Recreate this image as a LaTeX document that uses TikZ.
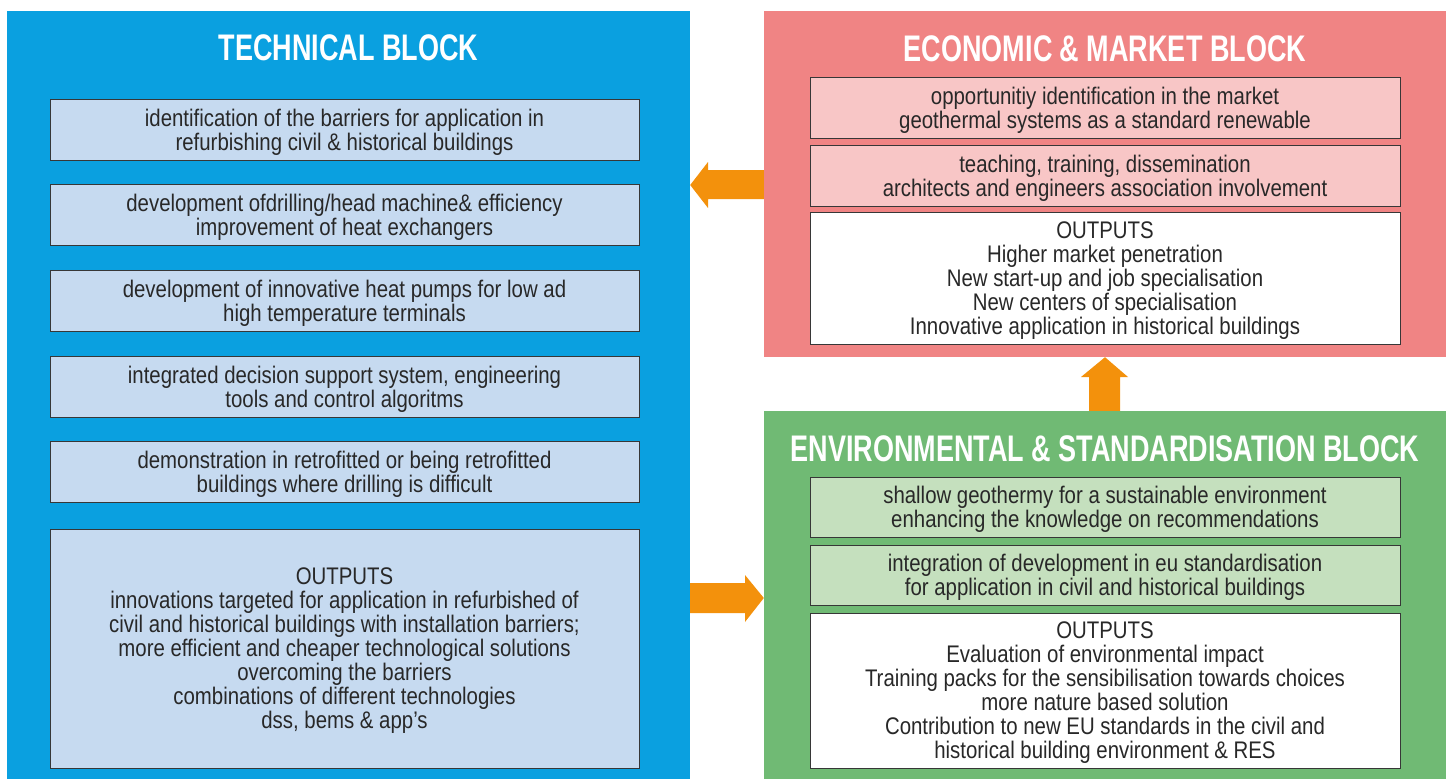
\documentclass[tikz,border=0pt]{standalone}
\usepackage{fontspec}
\setmainfont{Liberation Sans}[FakeStretch=0.85]
\newfontfamily\titlefont{Liberation Sans}[FakeStretch=0.73]
\definecolor{techblue}{RGB}{10,160,224}
\definecolor{econpink}{RGB}{240,132,132}
\definecolor{envgreen}{RGB}{112,186,116}
\definecolor{lblue}{RGB}{198,218,240}
\definecolor{lpink}{RGB}{248,198,198}
\definecolor{lgreen}{RGB}{197,224,190}
\definecolor{arrowor}{RGB}{243,145,12}
\definecolor{txt}{RGB}{40,40,40}
\definecolor{frame}{RGB}{55,55,55}
\tikzset{
  block/.style={rectangle, inner sep=0pt, draw=none},
  blocktitle/.style={text=white, font=\titlefont\bfseries\fontsize{37}{40}\selectfont, inner sep=0pt},
  item/.style={rectangle, draw=frame, line width=0.9pt, inner sep=0pt, align=center, text=txt,
    font=\fontsize{24}{24}\selectfont, text depth=0pt, minimum width=#1},
  flow/.style={fill=arrowor, draw=none}
}
\begin{document}
\begin{tikzpicture}[x=1pt,y=-1pt]
\useasboundingbox (0,0) rectangle (1453,779);
% blocks
\node[block, fill=techblue, minimum width=683pt, minimum height=768pt] (tech) at (348.5,395) {};
\node[block, fill=econpink, minimum width=682pt, minimum height=346pt] (econ) at (1105,184) {};
\node[block, fill=envgreen, minimum width=682pt, minimum height=368pt] (env) at (1105,595) {};
% titles
\node[blocktitle] (techT) at (348.5,48) {TECHNICAL BLOCK};
\node[blocktitle] (econT) at (1105,49) {ECONOMIC \& MARKET BLOCK};
\node[blocktitle] (envT) at (1105,449) {ENVIRONMENTAL \& STANDARDISATION BLOCK};
% technical items
\node[item=589pt, fill=lblue, minimum height=61pt] (t1) at (344.5,129.5)
  {identification of the barriers for application in\\refurbishing civil \& historical buildings};
\node[item=589pt, fill=lblue, minimum height=61pt] (t2) at (344.5,214.5)
  {development ofdrilling/head machine\& efficiency\\improvement of heat exchangers};
\node[item=589pt, fill=lblue, minimum height=61pt] (t3) at (344.5,300.5)
  {development of innovative heat pumps for low ad\\high temperature terminals};
\node[item=589pt, fill=lblue, minimum height=61pt] (t4) at (344.5,386.5)
  {integrated decision support system, engineering\\tools and control algoritms};
\node[item=589pt, fill=lblue, minimum height=61pt] (t5) at (344.5,471.5)
  {demonstration in retrofitted or being retrofitted\\buildings where drilling is difficult};
\node[item=589pt, fill=lblue, minimum height=239pt] (t6) at (344.5,648.5)
  {OUTPUTS\\innovations targeted for application in refurbished of\\civil and historical buildings with installation barriers;\\more efficient and cheaper technological solutions\\overcoming the barriers\\combinations of different technologies\\dss, bems \& app’s};
% economic items
\node[item=590pt, fill=lpink, minimum height=61pt] (e1) at (1105,107.5)
  {opportunitiy identification in the market\\geothermal systems as a standard renewable};
\node[item=590pt, fill=lpink, minimum height=61pt] (e2) at (1105,175.5)
  {teaching, training, dissemination\\architects and engineers association involvement};
\node[item=590pt, fill=white, minimum height=132pt] (e3) at (1105,278)
  {OUTPUTS\\Higher market penetration\\New start-up and job specialisation\\New centers of specialisation\\Innovative application in historical buildings};
% environmental items
\node[item=590pt, fill=lgreen, minimum height=60pt] (g1) at (1105,507)
  {shallow geothermy for a sustainable environment\\enhancing the knowledge on recommendations};
\node[item=590pt, fill=lgreen, minimum height=60pt] (g2) at (1105,575)
  {integration of development in eu standardisation\\for application in civil and historical buildings};
\node[item=590pt, fill=white, minimum height=155pt] (g3) at (1105,690.5)
  {OUTPUTS\\Evaluation of environmental impact\\Training packs for the sensibilisation towards choices\\more nature based solution\\Contribution to new EU standards in the civil and\\historical building environment \& RES};
% arrows
\fill[flow] (econ.west |- 0,170) -- (708,170) -- (708,162) -- (tech.east |- 0,185) -- (708,208) -- (708,199) -- (econ.west |- 0,199) -- cycle;
\fill[flow] (tech.east |- 0,583) -- (745,583) -- (745,575) -- (env.west |- 0,598) -- (745,622) -- (745,613) -- (tech.east |- 0,613) -- cycle;
\fill[flow] (1089,0 |- env.north) -- (1089,377) -- (1081,377) -- (1105,0 |- econ.south) -- (1128,377) -- (1120,377) -- (1120,0 |- env.north) -- cycle;
\end{tikzpicture}
\end{document}
